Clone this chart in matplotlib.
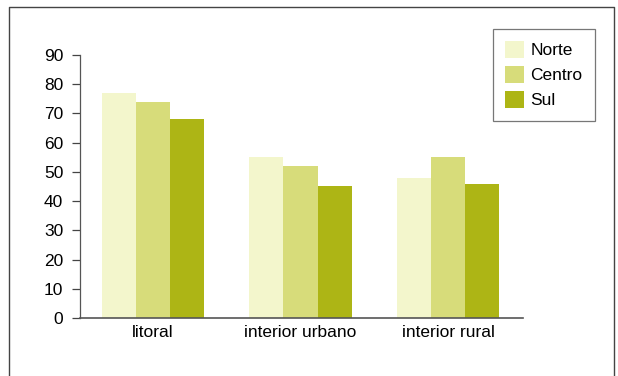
import numpy as np
import matplotlib.pyplot as plt
from matplotlib.lines import Line2D

categorias = ["litoral", "interior urbano", "interior rural"]
regioes = ["Norte", "Centro", "Sul"]
norte = [77, 55, 48]
centro = [74, 52, 55]
sul = [68, 45, 46]
cores = ["#f3f6cc", "#d7dc7a", "#adb515"]
yticks = [0, 10, 20, 30, 40, 50, 60, 70, 80, 90]

plt.rcParams["font.family"] = ["Liberation Sans", "DejaVu Sans"]

fig = plt.figure(figsize=(6.18, 3.76), dpi=100)
ax = fig.add_axes([80 / 618, 1 - 318 / 376, (523 - 80) / 618, (318 - 55) / 376])

x = np.arange(len(categorias))
w = 0.232
for i, (vals, cor, nome) in enumerate(zip([norte, centro, sul], cores, regioes)):
    ax.bar(x + (i - 1) * w, vals, width=w, color=cor, label=nome, linewidth=0)

ax.set_xlim(-0.495, 2.508)
ax.set_ylim(0, 90)
ax.set_yticks(yticks)
ax.set_xticks(x)
ax.set_xticklabels(categorias)
ax.tick_params(axis="y", length=6, width=0.9, color="#444444", labelsize=12.5, pad=6)
ax.tick_params(axis="x", length=0, labelsize=12.5, pad=5)
for s in ["top", "right"]:
    ax.spines[s].set_visible(False)
ax.spines["left"].set_color("#555555")
ax.spines["bottom"].set_color("#555555")
ax.spines["left"].set_linewidth(0.9)
ax.spines["bottom"].set_linewidth(1.2)

leg = fig.legend(loc="upper left", bbox_to_anchor=(493 / 618, 1 - 29 / 376),
                 fontsize=12.5, frameon=True, fancybox=False, handlelength=1.1,
                 handleheight=1.1, handletextpad=0.35, labelspacing=0.45,
                 borderpad=0.7, borderaxespad=0)
leg.get_frame().set_edgecolor("#555555")
leg.get_frame().set_linewidth(0.9)

# moldura exterior
fx = [9 / 618, 9 / 618, 614 / 618, 614 / 618]
fy = [0, 1 - 7 / 376, 1 - 7 / 376, 0]
fig.add_artist(Line2D(fx, fy, transform=fig.transFigure, color="#444444", linewidth=1.0))

fig.savefig("out.png", dpi=100)
